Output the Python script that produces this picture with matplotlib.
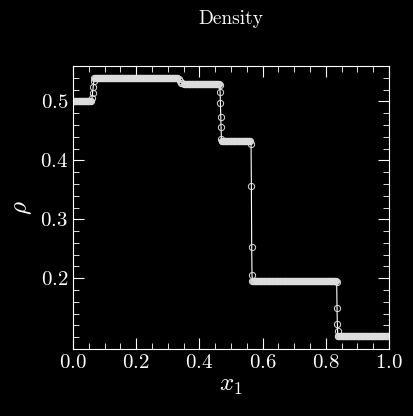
import numpy as np
import matplotlib
matplotlib.use("Agg")
import matplotlib.pyplot as plt
from matplotlib.ticker import MultipleLocator

# plateaus of the density profile (start, end, value) and samples in the jumps
plateau_x0 = [0.0, 0.068, 0.352, 0.470, 0.568, 0.838]
plateau_x1 = [0.058, 0.330, 0.462, 0.560, 0.832, 1.0]
plateau_rho = [0.500, 0.540, 0.530, 0.432, 0.196, 0.102]
jump_x = [0.060, 0.062, 0.064, 0.066, 0.334, 0.338, 0.342, 0.346,
          0.4645, 0.4655, 0.4665, 0.4675, 0.4685, 0.4695,
          0.5635, 0.5645, 0.5655, 0.5665,
          0.8345, 0.8355, 0.8365, 0.8375]
jump_rho = [0.505, 0.515, 0.525, 0.535, 0.538, 0.535, 0.532, 0.531,
            0.527, 0.516, 0.498, 0.474, 0.457, 0.437,
            0.428, 0.357, 0.253, 0.205,
            0.193, 0.150, 0.123, 0.110]

n_cells = 512
xs, rs = [], []
for a, b, v in zip(plateau_x0, plateau_x1, plateau_rho):
    seg = np.arange(a, b, 1.0 / n_cells)
    xs.extend(seg)
    rs.extend([v] * len(seg))
xs.extend(jump_x)
rs.extend(jump_rho)
order = np.argsort(xs)
x = np.array(xs)[order]
rho = np.array(rs)[order]

plt.rcParams["font.family"] = "serif"
plt.rcParams["font.serif"] = ["cmr10"]
plt.rcParams["mathtext.fontset"] = "cm"
plt.rcParams["axes.formatter.use_mathtext"] = True

fig = plt.figure(figsize=(4.13, 4.16), dpi=100, facecolor="black")
ax = fig.add_axes([73 / 413, 1 - 349 / 416, 316 / 413, 283 / 416])
ax.set_facecolor("black")

ax.plot(x, rho, "-", color="white", lw=0.8)
ax.plot(x, rho, "o", mfc="none", mec="#dddddd", ms=4.5, mew=0.7)

ax.set_xlim(0, 1)
ax.set_ylim(0.08, 0.56)
ax.xaxis.set_major_locator(MultipleLocator(0.2))
ax.xaxis.set_minor_locator(MultipleLocator(0.05))
ax.yaxis.set_major_locator(MultipleLocator(0.1))
ax.yaxis.set_minor_locator(MultipleLocator(0.02))
ax.set_yticks([0.2, 0.3, 0.4, 0.5])
ax.tick_params(which="both", direction="in", top=True, right=True,
               colors="white", labelsize=15)
ax.tick_params(which="major", length=8)
ax.tick_params(which="minor", length=4)
for s in ax.spines.values():
    s.set_color("white")

ax.set_xlabel(r"$x_1$", color="white", fontsize=18, labelpad=2)
ax.set_ylabel(r"$\rho$", color="white", fontsize=18)
ax.set_title("Density", color="white", fontsize=14, pad=30)

fig.savefig("out.png", dpi=100, facecolor="black")
